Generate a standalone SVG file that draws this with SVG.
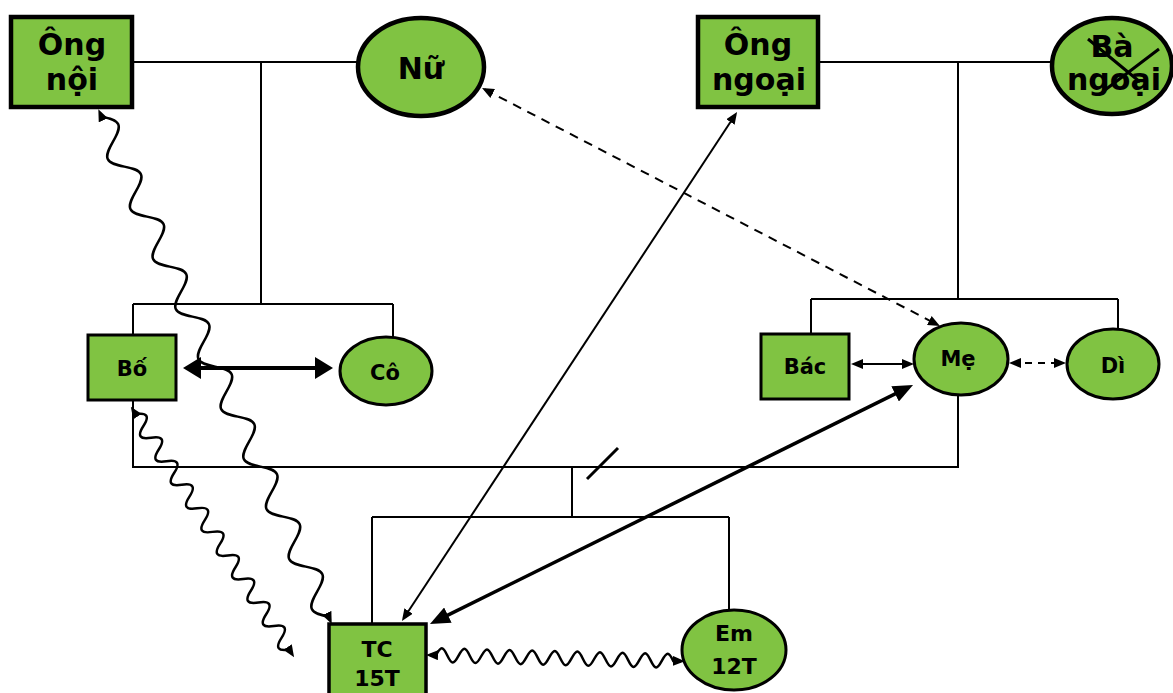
<svg xmlns="http://www.w3.org/2000/svg" width="1173" height="693" viewBox="0 0 1173 693">
<style>
.n{fill:#80c342;stroke:#000}
.nb{stroke-width:4.5}
.ns{stroke-width:3}
.t{font-family:"DejaVu Sans","Open Sans",sans-serif;font-weight:bold;text-anchor:middle;fill:#000}
.big{font-size:30px}
.sm{font-size:21px}
.md{font-size:22px}
.ln{fill:none;stroke:#000;stroke-width:2}
.wv{fill:none;stroke:#000;stroke-width:2.5}
</style>
<defs>
<marker id="as" markerUnits="userSpaceOnUse" viewBox="0 0 12 10" markerWidth="12" markerHeight="10" refX="9" refY="5" orient="auto-start-reverse"><path d="M0,0 L12,5 L0,10 z" fill="#000"/></marker>
<marker id="al" markerUnits="userSpaceOnUse" viewBox="0 0 18 22" markerWidth="18" markerHeight="22" refX="4" refY="11" orient="auto-start-reverse"><path d="M0,0 L18,11 L0,22 z" fill="#000"/></marker>
<marker id="am" markerUnits="userSpaceOnUse" viewBox="0 0 20 17" markerWidth="20" markerHeight="17" refX="4" refY="8.5" orient="auto-start-reverse"><path d="M0,0 L20,8.5 L0,17 z" fill="#000"/></marker>
<marker id="aw" markerUnits="userSpaceOnUse" viewBox="0 0 12 10" markerWidth="12" markerHeight="10" refX="8" refY="5" orient="auto-start-reverse"><path d="M0,0 L12,5 L0,10 z" fill="#000"/></marker>
</defs>
<g id="connectors">
<path class="ln" d="M132,62 H359 M261,62 V304 M133,304 H393 M133,304 V335 M393,304 V338"/>
<path class="ln" d="M818,62 H1052 M958,62 V299 M811,299 H1118 M811,299 V334 M1118,299 V330"/>
<path class="ln" d="M133,400 V467 H958 V395 M572,467 V517 M372,517 H729 M372,517 V624 M729,517 V610"/>
<line x1="587" y1="479" x2="618" y2="448" stroke="#000" stroke-width="3"/>
<line x1="197" y1="368" x2="319" y2="368" stroke="#000" stroke-width="4" marker-start="url(#al)" marker-end="url(#al)"/>
<line x1="854" y1="364" x2="911" y2="364" class="ln" stroke-width="2.5" marker-start="url(#as)" marker-end="url(#as)"/>
<line x1="1012" y1="363" x2="1063" y2="363" class="ln" stroke-width="3" stroke-dasharray="7,6" marker-start="url(#as)" marker-end="url(#as)"/>
<line x1="484.7" y1="89.4" x2="937.3" y2="324.6" class="ln" stroke-width="2.5" stroke-dasharray="9,7" marker-start="url(#as)" marker-end="url(#as)"/>
<line x1="403.6" y1="618.5" x2="735.4" y2="114.5" class="ln" marker-start="url(#as)" marker-end="url(#as)"/>
<line x1="444.3" y1="616.9" x2="898.7" y2="392.1" stroke="#000" stroke-width="3.5" marker-start="url(#am)" marker-end="url(#am)"/>
<path class="wv" transform="translate(100,113) rotate(65.6)" marker-start="url(#aw)" marker-end="url(#aw)" d="M0,0 l4,0 c4.476,-6.148 8.758,-12 13.725,-12 s9.249,5.852 13.725,12 s8.758,12 13.725,12 s9.249,-5.852 13.725,-12 s8.758,-12 13.725,-12 s9.249,5.852 13.725,12 s8.758,12 13.725,12 s9.249,-5.852 13.725,-12 s8.758,-12 13.725,-12 s9.249,5.852 13.725,12 s8.758,12 13.725,12 s9.249,-5.852 13.725,-12 s8.758,-12 13.725,-12 s9.249,5.852 13.725,12 s8.758,12 13.725,12 s9.249,-5.852 13.725,-12 s8.758,-12 13.725,-12 s9.249,5.852 13.725,12 s8.758,12 13.725,12 s9.249,-5.852 13.725,-12 s8.758,-12 13.725,-12 s9.249,5.852 13.725,12 s8.758,12 13.725,12 s9.249,-5.852 13.725,-12 s8.758,-12 13.725,-12 s9.249,5.852 13.725,12 s8.758,12 13.725,12 s9.249,-5.852 13.725,-12 s8.758,-12 13.725,-12 s9.249,5.852 13.725,12 s8.758,12 13.725,12 s9.249,-5.852 13.725,-12 s8.758,-12 13.725,-12 s9.249,5.852 13.725,12 s8.758,12 13.725,12 s9.249,-5.852 13.725,-12 s8.758,-12 13.725,-12 s9.249,5.852 13.725,12 s8.758,12 13.725,12 s9.249,-5.852 13.725,-12 l4,0"/>
<path class="wv" transform="translate(133,410) rotate(56.9)" marker-start="url(#aw)" marker-end="url(#aw)" d="M0,0 l5,0 q7,-16 14.05,0 t14.05,0 t14.05,0 t14.05,0 t14.05,0 t14.05,0 t14.05,0 t14.05,0 t14.05,0 t14.05,0 t14.05,0 t14.05,0 t14.05,0 t14.05,0 t14.05,0 t14.05,0 t14.05,0 t14.05,0 t14.05,0 t14.05,0 l5,0"/>
<path class="wv" transform="translate(430,655) rotate(1.4)" marker-start="url(#aw)" marker-end="url(#aw)" d="M0,0 l6,0 c1.842,-3.586 3.605,-7 5.65,-7 s3.808,3.414 5.65,7 s3.605,7 5.65,7 s3.808,-3.414 5.65,-7 s3.605,-7 5.65,-7 s3.808,3.414 5.65,7 s3.605,7 5.65,7 s3.808,-3.414 5.65,-7 s3.605,-7 5.65,-7 s3.808,3.414 5.65,7 s3.605,7 5.65,7 s3.808,-3.414 5.65,-7 s3.605,-7 5.65,-7 s3.808,3.414 5.65,7 s3.605,7 5.65,7 s3.808,-3.414 5.65,-7 s3.605,-7 5.65,-7 s3.808,3.414 5.65,7 s3.605,7 5.65,7 s3.808,-3.414 5.65,-7 s3.605,-7 5.65,-7 s3.808,3.414 5.65,7 s3.605,7 5.65,7 s3.808,-3.414 5.65,-7 s3.605,-7 5.65,-7 s3.808,3.414 5.65,7 s3.605,7 5.65,7 s3.808,-3.414 5.65,-7 s3.605,-7 5.65,-7 s3.808,3.414 5.65,7 s3.605,7 5.65,7 s3.808,-3.414 5.65,-7 s3.605,-7 5.65,-7 s3.808,3.414 5.65,7 s3.605,7 5.65,7 s3.808,-3.414 5.65,-7 s3.605,-7 5.65,-7 s3.808,3.414 5.65,7 s3.605,7 5.65,7 s3.808,-3.414 5.65,-7 s3.605,-7 5.65,-7 s3.808,3.414 5.65,7 l7.7,0"/>
</g>
<g id="ong-noi"><rect class="n nb" x="11" y="17" width="121" height="90"/><text class="t big" x="72" y="55">Ông</text><text class="t big" x="72" y="90">nội</text></g>
<g id="nu"><ellipse class="n nb" cx="421" cy="67" rx="63" ry="49"/><text class="t big" x="421" y="79">Nữ</text></g>
<g id="ong-ngoai"><rect class="n nb" x="698" y="17" width="120" height="90"/><text class="t big" x="758" y="55">Ông</text><text class="t big" x="759" y="90">ngoại</text></g>
<g id="ba-ngoai"><ellipse class="n nb" cx="1112" cy="66" rx="60" ry="48"/><text class="t big" x="1112" y="57">Bà</text><text class="t big" x="1114" y="90">ngoại</text><path d="M1088,39 L1140,82 M1159,49 L1105,90" stroke="#000" stroke-width="3" fill="none"/></g>
<g id="bo"><rect class="n ns" x="88" y="335" width="88" height="65"/><text class="t sm" x="132" y="376">Bố</text></g>
<g id="co"><ellipse class="n ns" cx="386" cy="371" rx="46" ry="34"/><text class="t sm" x="385" y="380">Cô</text></g>
<g id="bac"><rect class="n ns" x="761" y="334" width="88" height="65"/><text class="t sm" x="805" y="374">Bác</text></g>
<g id="me"><ellipse class="n ns" cx="961" cy="359" rx="47" ry="36"/><text class="t sm" x="958" y="366">Mẹ</text></g>
<g id="di"><ellipse class="n ns" cx="1113" cy="364" rx="46" ry="35"/><text class="t sm" x="1113" y="373">Dì</text></g>
<g id="tc"><rect class="n" x="329" y="624" width="97" height="80" stroke-width="3.5" style="stroke-width:3.5"/><text class="t md" x="377" y="657">TC</text><text class="t md" x="377" y="686">15T</text></g>
<g id="em"><ellipse class="n ns" cx="734" cy="650" rx="52" ry="40"/><text class="t md" x="734" y="641">Em</text><text class="t md" x="734" y="674">12T</text></g>
</svg>
